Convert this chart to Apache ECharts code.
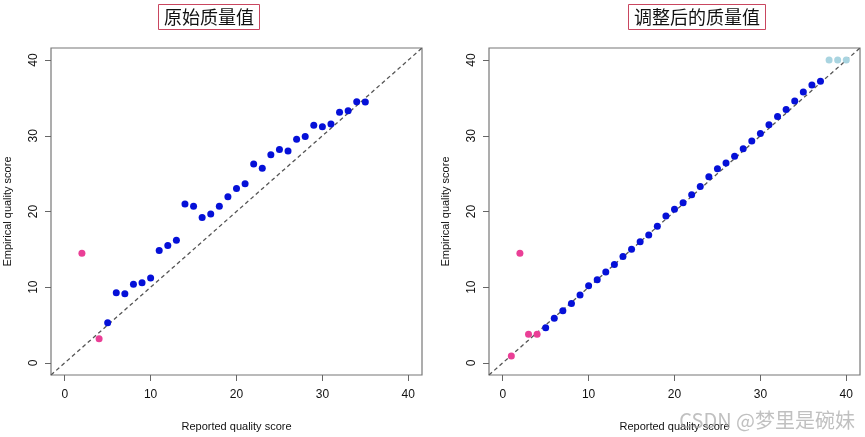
<!DOCTYPE html>
<html>
<head>
<meta charset="utf-8">
<script src="https://cdn.jsdelivr.net/npm/echarts@6/dist/echarts.min.js"></script>
<style>html,body{margin:0;padding:0;background:#fff;}#c{width:865px;height:437px;}</style>
</head>
<body>
<div id="c"></div>
<script>
// Titles
const titles = ['原始质量值', '调整后的质量值'];
const xName = 'Reported quality score';
const yName = 'Empirical quality score';
const tickValues = [0, 10, 20, 30, 40];
const axisRange = [-1.6, 41.6];

// Left panel: original quality scores
const leftPinkX = [2, 4];
const leftPinkY = [14.5, 3.2];
const leftBlueX = [5,6,7,8,9,10,11,12,13,14,15,16,17,18,19,20,21,22,23,24,25,26,27,28,29,30,31,32,33,34,35];
const leftBlueY = [5.3,9.25,9.15,10.4,10.6,11.2,14.85,15.5,16.2,21.0,20.7,19.2,19.66,20.7,21.96,23.05,23.65,26.26,25.7,27.5,28.2,28.0,29.56,29.9,31.4,31.2,31.55,33.1,33.3,34.5,34.45];

// Right panel: recalibrated quality scores
const rightPinkX = [1, 2, 3, 4];
const rightPinkY = [0.9, 14.5, 3.8, 3.8];
const rightBlueX = [5,6,7,8,9,10,11,12,13,14,15,16,17,18,19,20,21,22,23,24,25,26,27,28,29,30,31,32,33,34,35,36,37];
const rightBlueY = [4.64,5.9,6.9,7.85,8.98,10.2,11.0,12.0,13.0,14.06,15.0,16.0,16.9,18.05,19.4,20.3,21.15,22.2,23.3,24.6,25.65,26.4,27.3,28.3,29.3,30.3,31.47,32.55,33.46,34.6,35.8,36.7,37.2];
const rightLightX = [38, 39, 40];
const rightLightY = [40, 40, 40];

const zip = (xs, ys) => xs.map((x, i) => [x, ys[i]]);

const PINK = '#ea3f96', BLUE = '#0510d8', LIGHT = '#a9d4e0';
const FONT = '"Liberation Sans", Arial, sans-serif';

function xAxis(gi) {
  return {
    gridIndex: gi, type: 'value', min: axisRange[0], max: axisRange[1],
    name: xName, nameLocation: 'middle', nameGap: 46,
    nameTextStyle: { fontFamily: FONT, fontSize: 11, color: '#111' },
    axisLine: { show: false, onZero: false },
    splitLine: { show: false },
    axisTick: { show: true, inside: false, length: 6, customValues: tickValues, lineStyle: { color: '#666' } },
    axisLabel: { customValues: tickValues, fontFamily: FONT, fontSize: 12, color: '#111', margin: 14 }
  };
}
function yAxis(gi) {
  return {
    gridIndex: gi, type: 'value', min: axisRange[0], max: axisRange[1],
    name: yName, nameLocation: 'middle', nameGap: 38,
    nameTextStyle: { fontFamily: FONT, fontSize: 11, color: '#111' },
    axisLine: { show: false, onZero: false },
    splitLine: { show: false },
    axisTick: { show: true, inside: false, length: 6, customValues: tickValues, lineStyle: { color: '#666' } },
    axisLabel: { customValues: tickValues, rotate: 90, fontFamily: FONT, fontSize: 12, color: '#111', margin: 11 }
  };
}
function scatter(gi, data, color) {
  return { type: 'scatter', xAxisIndex: gi, yAxisIndex: gi, data: data, symbolSize: 7,
    itemStyle: { color: color, opacity: 1 }, z: 3, silent: true };
}
function diag(gi) {
  return { type: 'line', xAxisIndex: gi, yAxisIndex: gi, data: [[axisRange[0], axisRange[0]], [axisRange[1], axisRange[1]]],
    symbol: 'none', lineStyle: { color: '#555', width: 1.3, type: [4, 3] }, z: 2, silent: true };
}

const chart = echarts.init(document.getElementById('c'), null, { renderer: 'canvas' });
chart.setOption({
  animation: false,
  backgroundColor: '#fff',
  title: [
    { text: titles[0], left: 158, top: 4, padding: [4, 6], borderColor: '#c9465f', borderWidth: 1,
      textStyle: { fontFamily: '"Noto Sans CJK SC"', fontSize: 18, fontWeight: 'normal', color: '#111' } },
    { text: titles[1], left: 628, top: 4, padding: [4, 6], borderColor: '#c9465f', borderWidth: 1,
      textStyle: { fontFamily: '"Noto Sans CJK SC"', fontSize: 18, fontWeight: 'normal', color: '#111' } }
  ],
  grid: [
    { left: 51, top: 48, width: 371, height: 332, show: true, borderColor: '#777', borderWidth: 1.2, backgroundColor: '#fff' },
    { left: 489, top: 48, width: 371, height: 332, show: true, borderColor: '#777', borderWidth: 1.2, backgroundColor: '#fff' }
  ],
  xAxis: [xAxis(0), xAxis(1)],
  yAxis: [yAxis(0), yAxis(1)],
  series: [
    diag(0), diag(1),
    scatter(0, zip(leftPinkX, leftPinkY), PINK),
    scatter(0, zip(leftBlueX, leftBlueY), BLUE),
    scatter(1, zip(rightPinkX, rightPinkY), PINK),
    scatter(1, zip(rightBlueX, rightBlueY), BLUE),
    scatter(1, zip(rightLightX, rightLightY), LIGHT)
  ],
  graphic: [
    { type: 'text', right: 10, bottom: 7, z: 10,
      style: { text: 'CSDN @梦里是碗妹', fill: 'rgba(165,165,165,0.7)', font: '20px "Noto Sans CJK SC", sans-serif' } }
  ]
});
</script>
</body>
</html>
